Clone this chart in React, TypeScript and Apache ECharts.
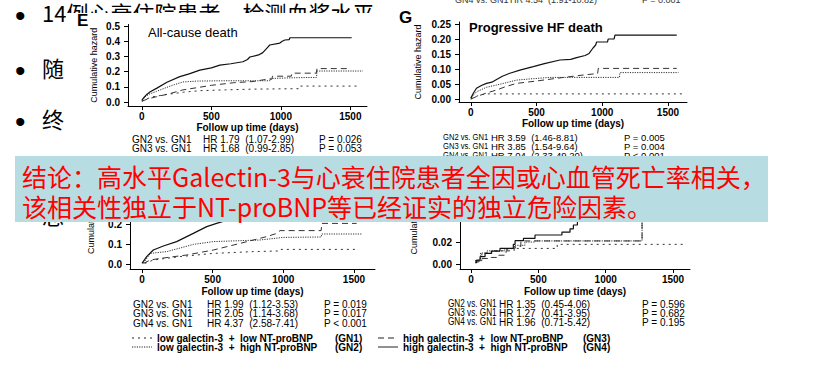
import React, { useEffect, useRef } from "react";
import * as echarts from "echarts";

// ---------- data ----------
const X_TICKS = [0, 500, 1000, 1500];
const E_Y_TICKS = [0, 0.1, 0.2, 0.3, 0.4, 0.5];
const G_Y_TICKS = [0, 0.05, 0.1, 0.15, 0.2, 0.25];
const I_Y_TICKS = [0, 0.1, 0.2];
const J_Y_TICKS = [0, 0.02];

// Panel E: all-cause death  [day, cumulative hazard]
const E_GN1 = [[0, 0.005], [30, 0.02], [80, 0.035], [180, 0.05], [300, 0.065], [420, 0.075], [600, 0.08], [800, 0.085], [1135, 0.088], [1140, 0.105], [1555, 0.105]];
const E_GN2 = [[0, 0.01], [30, 0.04], [60, 0.055], [105, 0.07], [160, 0.09], [220, 0.11], [295, 0.132], [400, 0.138], [600, 0.14], [920, 0.14], [925, 0.155], [1100, 0.16], [1257, 0.162], [1260, 0.204], [1590, 0.204]];
const E_GN3 = [[0, 0.005], [40, 0.02], [105, 0.035], [200, 0.055], [295, 0.08], [400, 0.095], [500, 0.11], [660, 0.127], [800, 0.135], [900, 0.15], [935, 0.15], [940, 0.17], [1075, 0.17], [1080, 0.19], [1255, 0.19], [1260, 0.22], [1500, 0.22]];
const E_GN4 = [[0, 0.013], [15, 0.03], [35, 0.05], [60, 0.068], [105, 0.09], [180, 0.13], [273, 0.167], [340, 0.185], [417, 0.21], [500, 0.225], [561, 0.243], [640, 0.252], [727, 0.265], [760, 0.28], [777, 0.296], [840, 0.31], [870, 0.325], [885, 0.34], [905, 0.36], [920, 0.375], [993, 0.388], [1010, 0.4], [1029, 0.408], [1060, 0.41], [1065, 0.423], [1510, 0.423]];

// Panel G: progressive HF death
const G_GN1 = [[0, 0.0], [30, 0.006], [63, 0.013], [119, 0.017], [1615, 0.017]];
const G_GN2 = [[0, 0.003], [43, 0.024], [119, 0.039], [230, 0.05], [348, 0.063], [480, 0.068], [602, 0.072], [1130, 0.072], [1135, 0.088], [1580, 0.088]];
const G_GN3 = [[0, 0.0], [43, 0.008], [120, 0.02], [196, 0.03], [270, 0.042], [348, 0.052], [500, 0.06], [653, 0.069], [856, 0.08], [965, 0.085], [970, 0.102], [1567, 0.102]];
const G_GN4 = [[0, 0.003], [20, 0.02], [43, 0.036], [80, 0.045], [119, 0.052], [160, 0.056], [196, 0.065], [240, 0.076], [297, 0.086], [380, 0.097], [475, 0.108], [560, 0.118], [678, 0.13], [760, 0.132], [805, 0.138], [870, 0.145], [900, 0.152], [930, 0.17], [950, 0.18], [957, 0.19], [1040, 0.19], [1045, 0.2], [1090, 0.2], [1097, 0.213], [1567, 0.213]];

// Lower-left panel
const I_GN1 = [[20, 0.003], [80, 0.02], [269, 0.037], [505, 0.053], [788, 0.062], [970, 0.065], [977, 0.073], [1519, 0.073]];
const I_GN2 = [[10, 0.005], [59, 0.053], [175, 0.062], [270, 0.08], [363, 0.098], [505, 0.112], [835, 0.12], [1000, 0.133], [1268, 0.135], [1272, 0.15], [1555, 0.15]];
const I_GN3 = [[10, 0.003], [59, 0.02], [130, 0.028], [316, 0.045], [505, 0.07], [694, 0.103], [883, 0.137], [953, 0.153], [977, 0.167], [1268, 0.167], [1272, 0.203], [1519, 0.203]];
const I_GN4 = [[0, 0.003], [33, 0.037], [80, 0.07], [151, 0.09], [245, 0.112], [363, 0.153], [458, 0.187], [528, 0.203], [700, 0.24], [900, 0.28], [1100, 0.32], [1300, 0.36], [1520, 0.36]];

// Lower-right panel (step data)
const J_GN1 = [[30, 0.003], [80, 0.01], [150, 0.012], [250, 0.013], [290, 0.0142], [640, 0.0179], [1575, 0.0179]];
const J_GN2 = [[30, 0.003], [70, 0.01], [120, 0.012], [250, 0.014], [330, 0.017], [400, 0.02], [470, 0.021], [1270, 0.07], [1560, 0.07]];
const J_GN3 = [[30, 0.002], [60, 0.005], [150, 0.006], [200, 0.008], [260, 0.012], [320, 0.016], [370, 0.021], [1270, 0.065], [1560, 0.065]];
const J_GN4 = [[30, 0.0012], [42, 0.0036], [67, 0.0067], [104, 0.0097], [153, 0.0118], [215, 0.0142], [314, 0.0179], [327, 0.0212], [389, 0.0233], [475, 0.0264], [675, 0.029], [735, 0.032], [760, 0.0355], [790, 0.04], [900, 0.045], [1000, 0.05], [1250, 0.055], [1560, 0.055]];

const E_STATS = [["GN2 vs. GN1", "HR 1.79  (1.07-2.99)", "P = 0.026"], ["GN3 vs. GN1", "HR 1.68  (0.99-2.85)", "P = 0.053"]];
const G_STATS = [["GN2 vs. GN1", "HR 3.59  (1.46-8.81)", "P = 0.005"], ["GN3 vs. GN1", "HR 3.85  (1.54-9.64)", "P = 0.004"], ["GN4 vs. GN1", "HR 7.04  (2.33-49.20)", "P < 0.001"]];
const I_STATS = [["GN2 vs. GN1", "HR 1.99  (1.12-3.53)", "P = 0.019"], ["GN3 vs. GN1", "HR 2.05  (1.14-3.68)", "P = 0.017"], ["GN4 vs. GN1", "HR 4.37  (2.58-7.41)", "P < 0.001"]];
const J_STATS = [["GN2 vs. GN1", "HR 1.35  (0.45-4.06)", "P = 0.596"], ["GN3 vs. GN1", "HR 1.27  (0.41-3.95)", "P = 0.682"], ["GN4 vs. GN1", "HR 1.96  (0.71-5.42)", "P = 0.195"]];
const TOP_STRIP = ["GN4 vs. GN1", "HR 4.54  (1.91-10.82)", "P = 0.001"];

const LEGEND = [
  ["low galectin-3  +  low NT-proBNP", "(GN1)"],
  ["low galectin-3  +  high NT-proBNP", "(GN2)"],
  ["high galectin-3  +  low NT-proBNP", "(GN3)"],
  ["high galectin-3  +  high NT-proBNP", "(GN4)"],
];
const TITLES = ["All-cause death", "Progressive HF death"];
const LETTERS = ["E", "G"];
const BULLETS = ["14例心衰住院患者，检测血浆水平", "随", "终", "总"];
const CONCLUSION = [
  "结论：高水平Galectin-3与心衰住院患者全因或心血管死亡率相关，",
  "该相关性独立于NT-proBNP等已经证实的独立危险因素。",
];
const X_NAME = "Follow up time (days)";
const Y_NAME = "Cumulative hazard";

// ---------- component ----------
const FAM = '"Liberation Sans", Arial, sans-serif';
const CJK = '"Noto Sans CJK SC", sans-serif';

export default function App() {
  const ref = useRef<HTMLDivElement>(null);
  useEffect(() => {
    document.body.style.margin = "0";
    const chart = echarts.init(ref.current!, null, { renderer: "svg" });

    const lineStyles = [
      { type: [2, 4], color: "#333", width: 1 },
      { type: [1.2, 1.2], color: "#333", width: 1 },
      { type: [6, 4], color: "#333", width: 1 },
      { type: "solid", color: "#111", width: 1.2 },
    ];

    const panels = [
      { grid: { left: 128, top: 24.5, width: 239, height: 81.5 }, xMin: -100, xMax: 1620, yMin: -0.026, yMax: 0.51, yTicks: E_Y_TICKS, dec: 1, yGap: 30, xGap: 16, step: false, series: [E_GN1, E_GN2, E_GN3, E_GN4] },
      { grid: { left: 459, top: 22, width: 228, height: 80 }, xMin: -90, xMax: 1645, yMin: -0.01, yMax: 0.2567, yTicks: G_Y_TICKS, dec: 2, yGap: 37, xGap: 16, step: false, series: [G_GN1, G_GN2, G_GN3, G_GN4] },
      { grid: { left: 130, top: 164, width: 245, height: 105 }, xMin: -85, xMax: 1649, yMin: -0.025, yMax: 0.5, yTicks: I_Y_TICKS, dec: 1, yGap: 35, xGap: 17, step: false, series: [I_GN1, I_GN2, I_GN3, I_GN4] },
      { grid: { left: 460, top: 165, width: 230, height: 104 }, xMin: -82, xMax: 1626, yMin: -0.0045, yMax: 0.09, yTicks: J_Y_TICKS, dec: 2, yGap: 42, xGap: 17, step: true, series: [J_GN1, J_GN2, J_GN3, J_GN4] },
    ];

    const labelStyle = { fontSize: 10, fontWeight: "bold", color: "#000", fontFamily: FAM };

    const grid = panels.map((p) => ({ ...p.grid, show: false }));
    const xAxis = panels.map((p, i) => ({
      type: "value", gridIndex: i, min: p.xMin, max: p.xMax,
      axisLine: { onZero: false, lineStyle: { color: "#000", width: 1 } },
      axisTick: { customValues: X_TICKS, length: 4, lineStyle: { color: "#000" } },
      axisLabel: { customValues: X_TICKS, margin: 5, formatter: (v: number) => String(v), ...labelStyle },
      splitLine: { show: false },
      name: X_NAME, nameLocation: "middle", nameGap: p.xGap,
      nameTextStyle: { fontSize: 10, fontWeight: "bold", color: "#000", fontFamily: FAM },
    }));
    const yAxis = panels.map((p, i) => ({
      type: "value", gridIndex: i, min: p.yMin, max: p.yMax,
      axisLine: { onZero: false, lineStyle: { color: "#000", width: 1 } },
      axisTick: { customValues: p.yTicks, length: 4, lineStyle: { color: "#000" } },
      axisLabel: { customValues: p.yTicks, margin: 8, formatter: (v: number) => v.toFixed(p.dec), ...labelStyle },
      splitLine: { show: false },
      name: Y_NAME, nameLocation: "middle", nameRotate: 90, nameGap: p.yGap,
      nameTextStyle: { fontSize: 9, color: "#000", fontFamily: FAM },
    }));
    const series: any[] = [];
    panels.forEach((p, i) => {
      p.series.forEach((data, k) => {
        series.push({
          type: "line", xAxisIndex: i, yAxisIndex: i, data, step: p.step ? "end" : false,
          symbol: "none", lineStyle: lineStyles[k], z: 2, silent: true,
        });
      });
    });

    const txt = (text: string, x: number, y: number, font: string, extra: any = {}) => ({
      type: "text", x, y, z: 5,
      style: { text, font, fill: "#000", textAlign: "left", align: "left", textVerticalAlign: "middle", verticalAlign: "middle", ...extra },
    });
    const graphics: any[] = [];

    // slide bullets behind the figure panels
    const bulletY = [12, 67, 118, 214];
    BULLETS.forEach((b, i) => {
      graphics.push({ ...txt("•", 15, bulletY[i] + 3, `30px ${FAM}`), z: -3 });
      graphics.push({ ...txt(b, 42, bulletY[i], `22px ${CJK}`), z: -3 });
    });
    graphics.push({ type: "rect", z: -2, shape: { x: 66, y: 13, width: 340, height: 354 }, style: { fill: "#fff" } });
    // cut-off stats line at top of G
    const stripX = [455, 510, 642];
    TOP_STRIP.forEach((s, i) => graphics.push(txt(s, stripX[i], 0, `9px ${FAM}`, { fill: "#333" })));

    // letters and titles
    graphics.push(txt(LETTERS[0], 77, 20, `bold 17px ${FAM}`));
    graphics.push(txt(LETTERS[1], 399, 17, `bold 17px ${FAM}`));
    graphics.push(txt(TITLES[0], 148, 32, `13px ${FAM}`));
    graphics.push(txt(TITLES[1], 469, 27, `bold 13px ${FAM}`));

    // stats blocks: [group label, HR, P] columns; sx = horizontal squeeze of the first column
    const statBlocks = [
      { rows: E_STATS, xs: [132, 203, 319], y0: 139, dy: 9, size: 10, sx: 1 },
      { rows: G_STATS, xs: [443, 491, 624], y0: 137, dy: 9, size: 9.5, sx: 0.8 },
      { rows: I_STATS, xs: [133, 207, 324], y0: 304, dy: 9.5, size: 10, sx: 1 },
      { rows: J_STATS, xs: [448, 499, 642], y0: 304, dy: 9, size: 10, sx: 0.82 },
    ];
    statBlocks.forEach((b) => {
      b.rows.forEach((r, ri) => {
        r.forEach((s, ci) => {
          const el: any = txt(s, b.xs[ci], b.y0 + ri * b.dy, `${b.size}px ${FAM}`);
          if (ci === 0 && b.sx !== 1) el.scaleX = b.sx;
          graphics.push(el);
        });
      });
    });

    // legend
    const legPos = [
      { sx: 132, tx: 157, gx: 335, y: 338 },
      { sx: 132, tx: 157, gx: 335, y: 347 },
      { sx: 378, tx: 403, gx: 583, y: 338 },
      { sx: 378, tx: 403, gx: 583, y: 347 },
    ];
    const legDash = [[2, 4], [1.2, 1.2], [6, 4], null];
    LEGEND.forEach((l, i) => {
      const p = legPos[i];
      graphics.push({
        type: "line", z: 5,
        shape: { x1: p.sx, y1: p.y, x2: p.sx + 20, y2: p.y },
        style: { stroke: "#222", lineWidth: 1, lineDash: legDash[i] || undefined },
      });
      graphics.push(txt(l[0], p.tx, p.y, `bold 10px ${FAM}`));
      graphics.push(txt(l[1], p.gx, p.y, `bold 10px ${FAM}`));
    });

    // conclusion box
    graphics.push({ type: "rect", z: 50, shape: { x: 15, y: 156, width: 753, height: 66 }, style: { fill: "#b7dde3" } });
    graphics.push({ ...txt(CONCLUSION[0], 22, 176, `25px ${CJK}`, { fill: "#ff0000" }), z: 51 });
    graphics.push({ ...txt(CONCLUSION[1], 22, 206, `25px ${CJK}`, { fill: "#ff0000" }), z: 51 });

    chart.setOption({
      animation: false,
      backgroundColor: "#fff",
      grid, xAxis, yAxis, series,
      graphic: { elements: graphics },
    });
    return () => chart.dispose();
  }, []);
  return <div ref={ref} style={{ width: 815, height: 367 }} />;
}
